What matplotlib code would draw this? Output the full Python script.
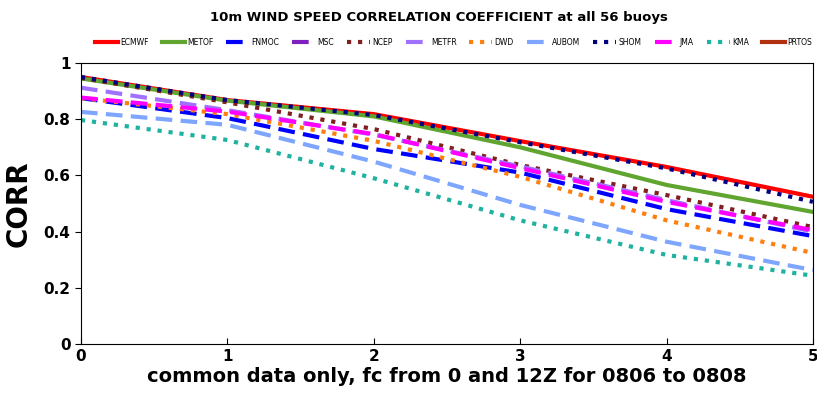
import numpy as np
import matplotlib.pyplot as plt

# fc day
days = [0, 1, 2, 3, 4, 5]

# correlation per centre
ecmwf = [0.950, 0.868, 0.818, 0.722, 0.630, 0.524]
metof = [0.945, 0.866, 0.810, 0.700, 0.566, 0.470]
fnmoc = [0.875, 0.804, 0.694, 0.610, 0.480, 0.384]
msc = []
ncep = [0.947, 0.860, 0.765, 0.637, 0.530, 0.416]
metfr = [0.912, 0.832, 0.745, 0.632, 0.512, 0.400]
dwd = [0.875, 0.818, 0.723, 0.595, 0.440, 0.324]
aubom = [0.826, 0.780, 0.649, 0.495, 0.364, 0.263]
shom = [0.950, 0.868, 0.815, 0.718, 0.625, 0.506]
jma = [0.877, 0.827, 0.747, 0.626, 0.506, 0.405]
kma = [0.797, 0.726, 0.590, 0.440, 0.317, 0.243]
prtos = []

names = ['ECMWF', 'METOF', 'FNMOC', 'MSC', 'NCEP', 'METFR', 'DWD', 'AUBOM',
         'SHOM', 'JMA', 'KMA', 'PRTOS']
series = [ecmwf, metof, fnmoc, msc, ncep, metfr, dwd, aubom, shom, jma, kma, prtos]
colors = ['#ff0000', '#5fa52f', '#0000ff', '#7f1fbf', '#7f1f1f', '#a070ff',
          '#ff7f0e', '#7fa6ff', '#000080', '#ff00ff', '#20b2a0', '#b03010']
styles = ['-', '-', (0, (4, 2)), (0, (4, 2)), ':', (0, (4, 2)), ':', (0, (4, 2)),
          ':', (0, (4, 2)), ':', '-']

fig = plt.figure(figsize=(8.17, 3.93), dpi=100)
ax = fig.add_axes([0.0991, 0.1247, 0.8959, 0.715])

# порядок как в легенде: SHOM поверх ECMWF, JMA поверх METFR
handles = []
for i in range(len(names)):
    d = days[:len(series[i])]
    ln, = ax.plot(d, series[i], color=colors[i], linestyle=styles[i], lw=3, label=names[i])
    handles.append(ln)

ax.set_xlim(0, 5)
ax.set_ylim(0, 1)
ax.set_xticks([0, 1, 2, 3, 4, 5])
ax.set_yticks([0, 0.2, 0.4, 0.6, 0.8, 1])
ax.set_yticklabels(['0', '0.2', '0.4', '0.6', '0.8', '1'])
ax.tick_params(axis='x', direction='in', length=4, labelsize=11)
ax.tick_params(axis='y', direction='out', length=4, labelsize=11)
for lab in ax.get_xticklabels() + ax.get_yticklabels():
    lab.set_fontweight('bold')

ax.set_ylabel('CORR', fontsize=20, fontweight='bold', labelpad=8)
ax.set_xlabel('common data only, fc from 0 and 12Z for 0806 to 0808',
              fontsize=14, fontweight='bold', labelpad=2)

fig.text(0.537, 0.955, '10m WIND SPEED CORRELATION COEFFICIENT at all 56 buoys',
         ha='center', va='center', fontsize=9.5, fontweight='bold')

fig.legend(handles, names, loc='center', bbox_to_anchor=(0.555, 0.893), ncol=12,
           frameon=False, fontsize=5.5, handlelength=3.0, handletextpad=0.3,
           columnspacing=1.7)

plt.savefig('out.png', dpi=100)
